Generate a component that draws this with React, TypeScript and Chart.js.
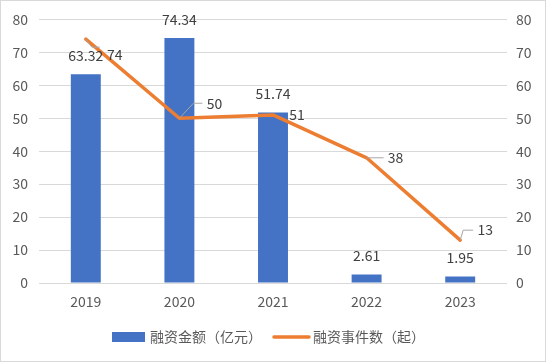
import React, { useEffect, useRef } from "react";
import { Chart, registerables } from "chart.js";

Chart.register(...registerables);

const categories = ["2019", "2020", "2021", "2022", "2023"];
const amountValues = [63.32, 74.34, 51.74, 2.61, 1.95];
const eventValues = [74, 50, 51, 38, 13];
const amountLabel = "融资金额（亿元）";
const eventLabel = "融资事件数（起）";

// label placement for line labels (style, not data)
const lineLabelOffsets = [
  [29, 16],
  [35, -15],
  [24, 0],
  [29, 0],
  [25, -10],
];
const lineLeaders: (number[][] | null)[] = [
  [[6, 8], [14, 8]],
  [[14, -15], [23, -15]],
  null,
  [[0, 0], [17, 0]],
  [[3, -10], [13, -10]],
];

const FONT = "'Noto Sans CJK SC', 'Noto Sans', sans-serif";
const TEXT = "#595959";
const LABEL = "#404040";
const BLUE = "#4472C4";
const ORANGE = "#ED7D31";

const labelPlugin = {
  id: "customLabels",
  afterDatasetsDraw(chart: any) {
    const ctx = chart.ctx;
    ctx.save();
    ctx.font = `14px ${FONT}`;
    ctx.fillStyle = LABEL;
    ctx.textAlign = "center";
    ctx.textBaseline = "middle";
    const barMeta = chart.getDatasetMeta(0);
    barMeta.data.forEach((el: any, i: number) => {
      ctx.fillText(amountValues[i].toFixed(2), el.x, el.y - 18.5);
    });
    const lineMeta = chart.getDatasetMeta(1);
    lineMeta.data.forEach((el: any, i: number) => {
      const leader = lineLeaders[i];
      if (leader) {
        ctx.strokeStyle = "#a6a6a6";
        ctx.lineWidth = 1;
        ctx.beginPath();
        ctx.moveTo(el.x, el.y);
        leader.forEach((p) => ctx.lineTo(el.x + p[0], el.y + p[1]));
        ctx.stroke();
      }
      const [dx, dy] = lineLabelOffsets[i];
      ctx.fillStyle = LABEL;
      ctx.fillText(String(eventValues[i]), el.x + dx, el.y + dy);
    });
    ctx.restore();
  },
  afterDraw(chart: any) {
    const ctx = chart.ctx;
    ctx.save();
    // legend
    ctx.fillStyle = BLUE;
    ctx.fillRect(112, 332, 33, 10);
    ctx.font = `14px ${FONT}`;
    ctx.fillStyle = TEXT;
    ctx.textAlign = "left";
    ctx.textBaseline = "middle";
    ctx.fillText(amountLabel, 150, 337);
    ctx.strokeStyle = ORANGE;
    ctx.lineWidth = 3.5;
    ctx.lineCap = "round";
    ctx.beginPath();
    ctx.moveTo(274, 337);
    ctx.lineTo(309, 337);
    ctx.stroke();
    ctx.fillText(eventLabel, 313, 337);
    // border
    ctx.strokeStyle = "#d9d9d9";
    ctx.lineWidth = 1;
    ctx.lineCap = "butt";
    ctx.strokeRect(0.5, 0.5, chart.width - 1, chart.height - 1);
    ctx.restore();
  },
};

export default function App() {
  const ref = useRef<HTMLCanvasElement>(null);
  useEffect(() => {
    document.body.style.margin = "0";
    const canvas = ref.current;
    if (!canvas) return;
    const tickFont = { size: 14, family: FONT };
    const chart = new Chart(canvas, {
      type: "bar",
      data: {
        labels: categories,
        datasets: [
          {
            type: "bar",
            label: amountLabel,
            data: amountValues,
            backgroundColor: BLUE,
            barPercentage: 0.32,
            categoryPercentage: 1,
            yAxisID: "y",
            order: 1,
          },
          {
            type: "line",
            label: eventLabel,
            data: eventValues,
            borderColor: ORANGE,
            backgroundColor: ORANGE,
            borderWidth: 3.5,
            pointRadius: 0,
            tension: 0,
            borderJoinStyle: "round",
            borderCapStyle: "round",
            yAxisID: "y1",
            order: 0,
          },
        ],
      } as any,
      options: {
        responsive: false,
        animation: false,
        devicePixelRatio: 1,
        layout: { padding: { top: 19, bottom: 45, left: 0, right: 0 } },
        plugins: { legend: { display: false }, tooltip: { enabled: false } },
        scales: {
          x: {
            grid: { display: false, drawTicks: false },
            border: { display: false },
            ticks: { color: TEXT, font: tickFont, padding: 10, maxRotation: 0 },
            afterFit: (s: any) => {
              s.height = 34;
            },
          },
          y: {
            position: "left",
            min: 0,
            max: 80,
            ticks: { stepSize: 10, color: TEXT, font: tickFont, padding: 11 },
            grid: { color: "#d9d9d9", drawTicks: false, lineWidth: 1 },
            border: { display: false },
            afterFit: (s: any) => {
              s.width = 39;
            },
          },
          y1: {
            position: "right",
            min: 0,
            max: 80,
            ticks: { stepSize: 10, color: TEXT, font: tickFont, padding: 9 },
            grid: { display: false, drawTicks: false },
            border: { display: false },
            afterFit: (s: any) => {
              s.width = 39;
            },
          },
        },
      } as any,
      plugins: [labelPlugin],
    });
    return () => chart.destroy();
  }, []);
  return (
    <canvas
      ref={ref}
      width={546}
      height={362}
      style={{ display: "block", width: 546, height: 362 }}
    />
  );
}
